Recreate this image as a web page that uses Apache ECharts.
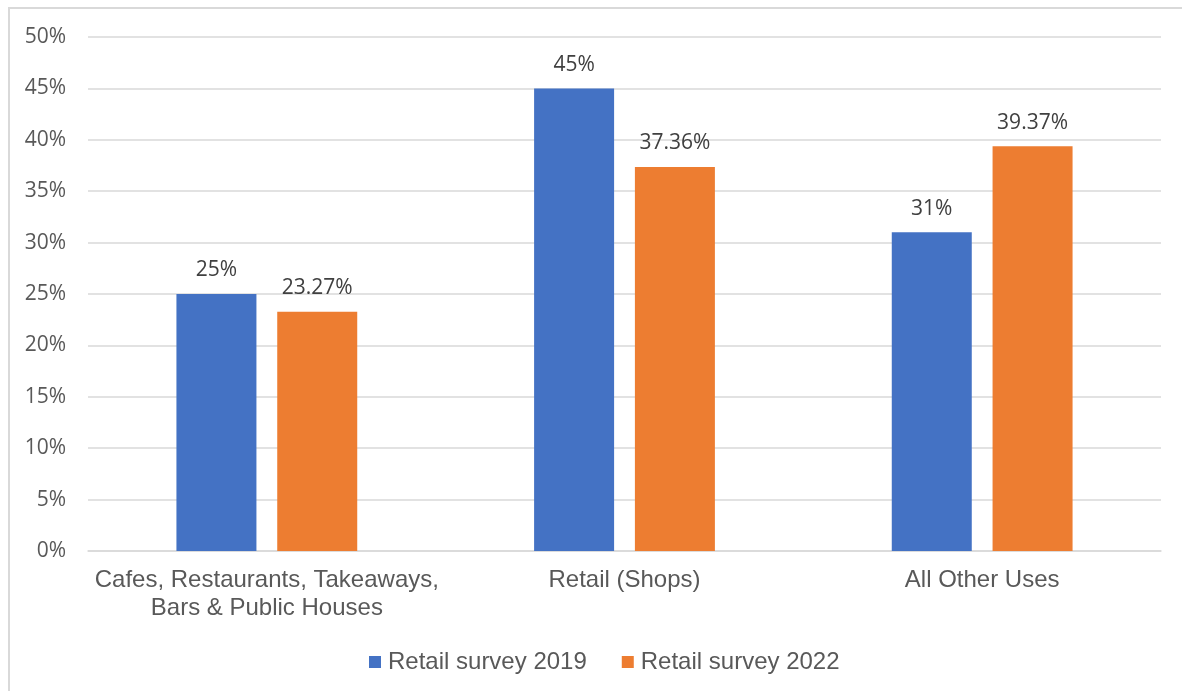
<!DOCTYPE html>
<html>
<head>
<meta charset="utf-8">
<script src="https://cdn.jsdelivr.net/npm/echarts@6/dist/echarts.min.js"></script>
<style>
  html, body { margin: 0; padding: 0; background: #fff; }
  #frame { position: absolute; left: 8px; top: 7px; width: 1190px; height: 700px; border: 2px solid #d9d9d9; box-sizing: border-box; }
  #chart { position: absolute; left: 0; top: 0; width: 1182px; height: 691px; }
</style>
</head>
<body>
<div id="frame"></div>
<div id="chart"></div>
<script>
const categories = ['Cafes, Restaurants, Takeaways,\nBars & Public Houses', 'Retail (Shops)', 'All Other Uses'];
const survey2019 = [25, 45, 31];
const survey2022 = [23.27, 37.36, 39.37];
const seriesNames = ['Retail survey 2019', 'Retail survey 2022'];

const tickFont = '"Open Sans", "Noto Sans", sans-serif';
const textFont = '"Liberation Sans", Arial, sans-serif';

function labelFmt(p) { return p.value + '%'; }

const chart = echarts.init(document.getElementById('chart'));
chart.setOption({
  animation: false,
  grid: { left: 88, right: 21, top: 37, bottom: 140 },
  legend: {
    top: 645,
    left: 364,
    itemWidth: 12, itemHeight: 12, itemGap: 35,
    icon: 'rect',
    textStyle: { fontFamily: textFont, fontSize: 24, color: '#595959', padding: [0, 0, 0, 2] },
    data: seriesNames
  },
  xAxis: {
    type: 'category',
    data: categories,
    axisLine: { lineStyle: { color: '#d9d9d9', width: 1.5 } },
    axisTick: { show: false },
    axisLabel: { interval: 0, fontFamily: textFont, fontSize: 24, color: '#595959', lineHeight: 28, margin: 15 }
  },
  yAxis: {
    type: 'value',
    min: 0, max: 50, interval: 5,
    axisLabel: { formatter: '{value}%', fontFamily: tickFont, fontSize: 21, color: '#595959', margin: 22 },
    splitLine: { lineStyle: { color: '#d9d9d9', width: 1.5 } },
    axisLine: { show: false },
    axisTick: { show: false }
  },
  series: [
    {
      name: seriesNames[0], type: 'bar', data: survey2019,
      barWidth: 80, barGap: '26%',
      itemStyle: { color: '#4472c4' },
      label: { show: true, position: 'top', distance: 13, formatter: labelFmt, fontFamily: tickFont, fontSize: 21, color: '#404040' }
    },
    {
      name: seriesNames[1], type: 'bar', data: survey2022,
      barWidth: 80,
      itemStyle: { color: '#ed7d31' },
      label: { show: true, position: 'top', distance: 13, formatter: labelFmt, fontFamily: tickFont, fontSize: 21, color: '#404040' }
    }
  ]
});
</script>
</body>
</html>
